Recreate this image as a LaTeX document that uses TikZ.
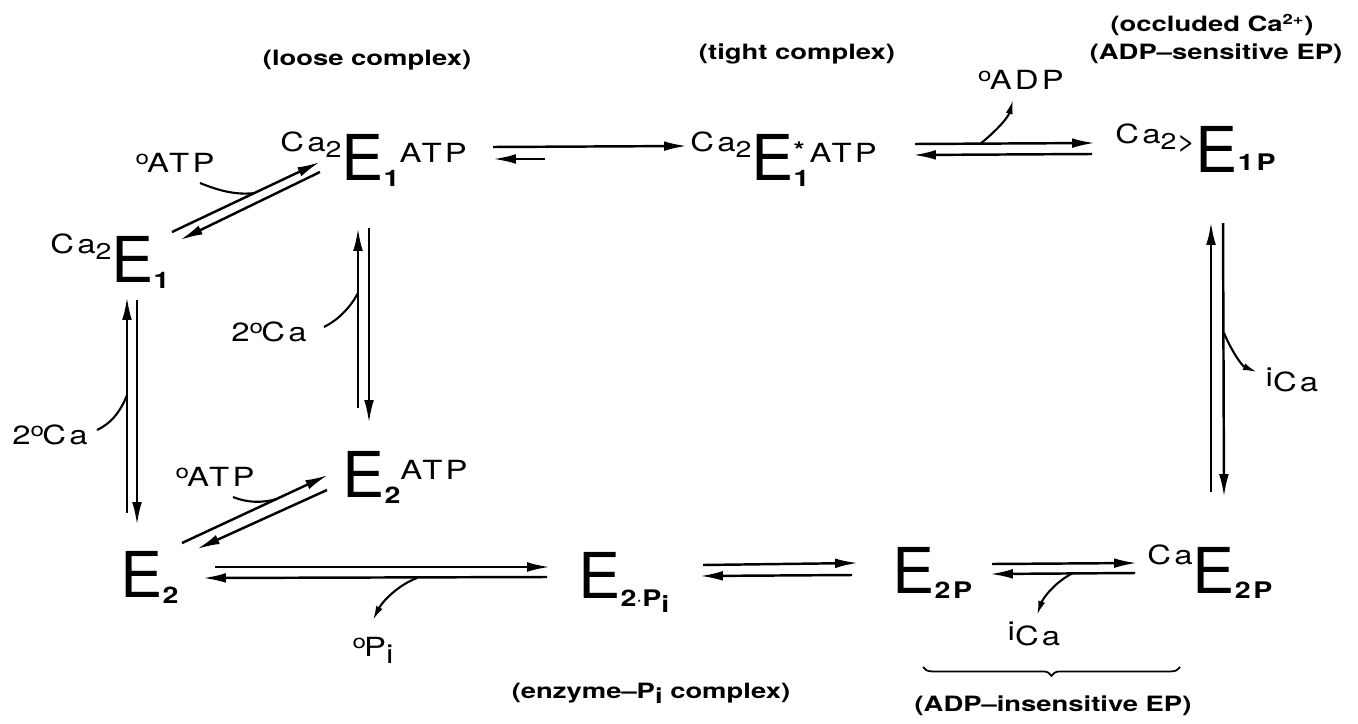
\documentclass[tikz,border=0pt]{standalone}
\usepackage{fontspec}
\setmainfont{TeX Gyre Heros}
\newfontfamily\wfont[FakeStretch=1.25,LetterSpace=12]{TeX Gyre Heros}
\newfontfamily\tagfont[FakeStretch=1.3]{TeX Gyre Heros}
\usetikzlibrary{arrows.meta,decorations.pathreplacing,positioning}

% pieces of the species names
\newcommand{\Ebig}{{\fontsize{36}{36}\selectfont E}}
\newcommand{\supT}[2]{\raisebox{#1}{\wfont\fontsize{15}{15}\selectfont #2}}
\newcommand{\subT}[2]{\raisebox{#1}{\wfont\bfseries\fontsize{13}{13}\selectfont #2}}
\newcommand{\caT}{\supT{16pt}{Ca}\raisebox{13pt}{\wfont\fontsize{13}{13}\selectfont 2}}
\newcommand{\outT}{\raisebox{4.5pt}{\fontsize{11}{11}\selectfont o}\kern-1pt}

\begin{document}
\begin{tikzpicture}[x=0.02cm, y=-0.02cm,
    species/.style = {inner sep=0pt, anchor=base west},
    tag/.style = {inner sep=0pt, font=\tagfont\bfseries\fontsize{12}{12}\selectfont},
    lbl/.style = {inner sep=0pt, font=\wfont\fontsize{15}{15}\selectfont},
    arr/.style = {line width=1.4pt, -{Latex[length=13pt,width=5.5pt]}},
    bind/.style = {line width=1.2pt},
    rel/.style = {line width=1.2pt, -{Latex[length=8pt,width=4pt]}}
]
\useasboundingbox (0,0) rectangle (1358,723);

% species
\node (e1) [species] at (50,282) {\caT\Ebig\subT{-3.5pt}{1}};
\node (e1atp) [species] at (280,180) {\caT\Ebig\subT{-3.5pt}{1}\supT{10pt}{ATP}};
\node (e1s) [species] at (690,180) {\caT\Ebig\rlap{\subT{12pt}{*}}\subT{-3.5pt}{1}\supT{10pt}{ATP}};
\node (e1p) [species] at (1115,172) {\caT\supT{12pt}{>}\Ebig\subT{1pt}{1P}};
\node (e2atp) [species] at (342,497) {\Ebig\subT{-3.5pt}{2}\supT{10pt}{ATP}};
\node (e2) [species] at (120,597) {\Ebig\subT{-3.5pt}{2}};
\node (e2pi) [species] at (578,598) {\Ebig\subT{-5pt}{2$\cdot$P\raisebox{-3pt}{i}}};
\node (e2p) [species] at (892,593) {\Ebig\subT{-3pt}{2P}};
\node (ce2p) [species] at (1147,593) {\supT{16pt}{Ca}\Ebig\subT{-3pt}{2P}};

% ligands
\node (atpA) [lbl] at (175,163) {\outT ATP};
\node (atpB) [lbl] at (215,477) {\outT ATP};
\node (caA) [lbl] at (50,435) {2\outT Ca};
\node (caB) [lbl] at (269,332) {2\outT Ca};
\node (adp) [lbl] at (1021,80) {\outT ADP};
\node (pi) [lbl] at (373,650) {\outT P\raisebox{-4pt}{i}};
\node (icaA) [lbl] at (1292,380) {\raisebox{3pt}{i}Ca};
\node (icaB) [lbl] at (1034,634) {\raisebox{3pt}{i}Ca};

% captions
\node (loose) [tag] at (367,60) {(loose complex)};
\node (tight) [tag] at (797,54) {(tight complex)};
\node (occl) [tag] at (1212,25) {(occluded Ca\textsuperscript{2+})};
\node (adpsens) [tag] at (1216,54) {(ADP\textendash sensitive EP)};
\node (enzpi) [tag] at (651,693) {(enzyme\textendash P\raisebox{-3pt}{i} complex)};
\node (adpins) [tag] at (1053,706) {(ADP\textendash insensitive EP)};

% arrow ends
\coordinate (a1) at (172,232); \coordinate (a2) at (320,162);
\coordinate (a3) at (320,172); \coordinate (a4) at (180,240);
\coordinate (b1) at (493,147); \coordinate (b2) at (687,146);
\coordinate (b3) at (545,159); \coordinate (b4) at (493,159);
\coordinate (c1) at (915,144); \coordinate (c2) at (1095,143);
\coordinate (c3) at (1092,154); \coordinate (c4) at (913,155);
\coordinate (d1) at (1211,492); \coordinate (d2) at (1211,222);
\coordinate (d3) at (1223,223); \coordinate (d4) at (1224,497);
\coordinate (f1) at (992,564); \coordinate (f2) at (1137,563);
\coordinate (f3) at (1135,573); \coordinate (f4) at (990,574);
\coordinate (g1) at (703,565); \coordinate (g2) at (858,563);
\coordinate (g3) at (852,575); \coordinate (g4) at (700,576);
\coordinate (h1) at (215,567); \coordinate (h2) at (550,567);
\coordinate (h3) at (547,577); \coordinate (h4) at (203,578);
\coordinate (k1) at (182,543); \coordinate (k2) at (328,475);
\coordinate (k3) at (327,490); \coordinate (k4) at (197,549);
\coordinate (m1) at (127,513); \coordinate (m2) at (127,297);
\coordinate (m3) at (137,300); \coordinate (m4) at (137,525);
\coordinate (n1) at (358,408); \coordinate (n2) at (358,228);
\coordinate (n3) at (369,228); \coordinate (n4) at (369,423);

\draw [arr] (a1) -- (a2);
\draw [arr] (a3) -- (a4);
\draw [arr] (b1) -- (b2);
\draw [arr] (b3) -- (b4);
\draw [arr] (c1) -- (c2);
\draw [arr] (c3) -- (c4);
\draw [arr] (d1) -- (d2);
\draw [arr] (d3) -- (d4);
\draw [arr] (f1) -- (f2);
\draw [arr] (f3) -- (f4);
\draw [arr] (g1) -- (g2);
\draw [arr] (g3) -- (g4);
\draw [arr] (h1) -- (h2);
\draw [arr] (h3) -- (h4);
\draw [arr] (k1) -- (k2);
\draw [arr] (k3) -- (k4);
\draw [arr] (m1) -- (m2);
\draw [arr] (m3) -- (m4);
\draw [arr] (n1) -- (n2);
\draw [arr] (n3) -- (n4);

% ligand hooks
\draw [bind] (200,183) .. controls (222,192) and (238,195) .. (255,193);
\draw [bind] (233,497) .. controls (248,503) and (262,503) .. (277,499);
\draw [bind] (127,395) .. controls (120,413) and (110,424) .. (97,430);
\draw [bind] (358,293) .. controls (350,308) and (338,320) .. (324,327);
\draw [rel] (980,144) .. controls (995,132) and (1008,118) .. (1013,100);
\draw [rel] (1224,333) .. controls (1232,352) and (1242,366) .. (1257,372);
\draw [rel] (1073,573) .. controls (1055,582) and (1043,598) .. (1037,615);
\draw [rel] (417,578) .. controls (398,585) and (382,602) .. (373,620);

% brace
\draw [decorate, decoration={brace, mirror, amplitude=5pt}, line width=1pt] (923,667) -- (1180,667);

\end{tikzpicture}
\end{document}
